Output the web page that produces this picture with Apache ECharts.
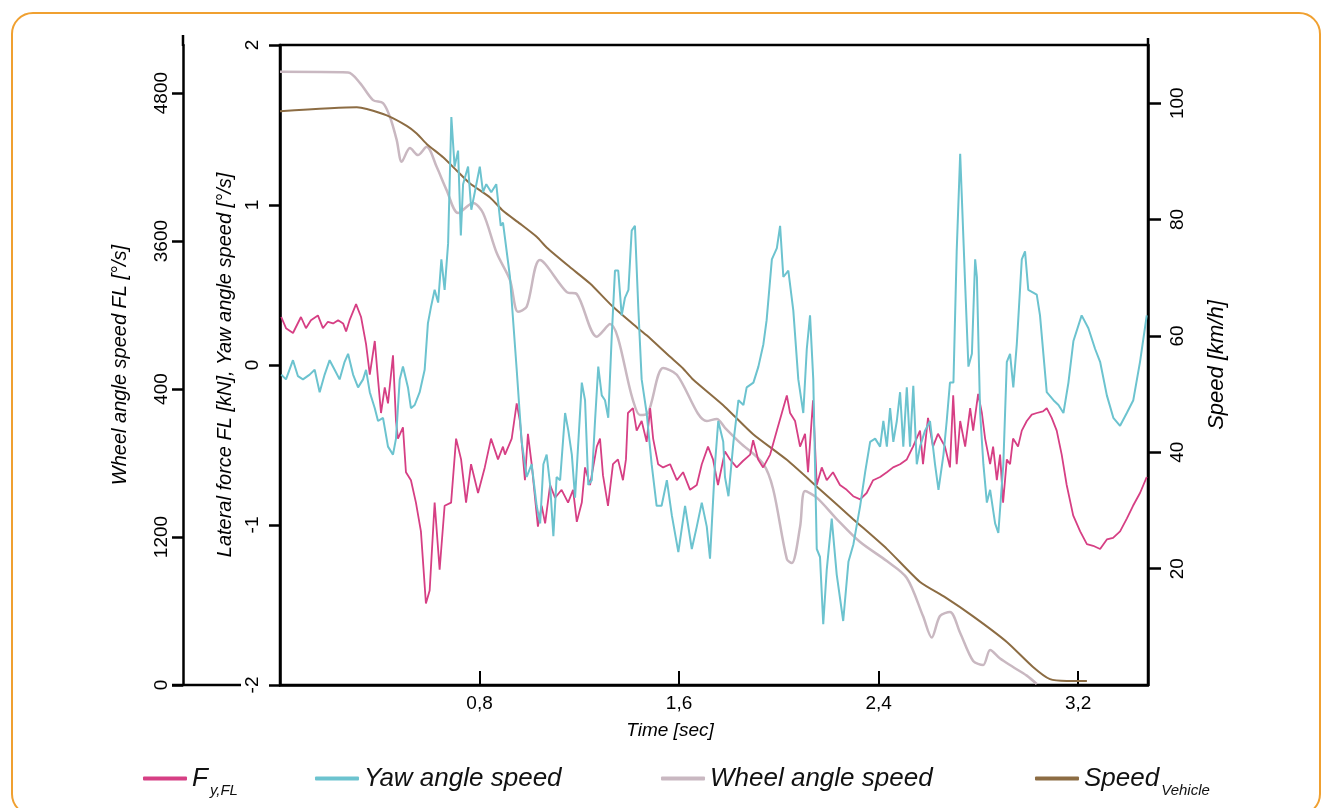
<!DOCTYPE html>
<html>
<head>
<meta charset="utf-8">
<script src="https://cdn.jsdelivr.net/npm/echarts@6/dist/echarts.min.js"></script>
<style>
	html, body { margin: 0; padding: 0; background: #fff; overflow: hidden; }
	#frame { position: absolute; left: 11px; top: 12px; width: 1306px; height: 800px; border: 2px solid #f0a030; border-radius: 22px; }
	#chart { position: absolute; left: 0; top: 0; width: 1325px; height: 808px; }
</style>
</head>
<body>
<div id="frame"></div>
<div id="chart"></div>
<script type="text/javascript">
	// [time s, value]
	var fyData = [
		[0.005,0.30],[0.024,0.23],[0.052,0.20],[0.084,0.30],[0.104,0.23],[0.124,0.28],[0.152,0.31],[0.172,0.23],
		[0.192,0.27],[0.213,0.26],[0.233,0.28],[0.253,0.26],[0.265,0.21],[0.279,0.28],[0.305,0.38],[0.325,0.30],
		[0.345,0.13],[0.360,-0.06],[0.380,0.15],[0.393,-0.09],[0.405,-0.30],[0.420,-0.14],[0.433,-0.24],[0.453,0.06],
		[0.465,-0.35],[0.473,-0.46],[0.493,-0.39],[0.505,-0.67],[0.525,-0.72],[0.545,-0.86],[0.565,-1.04],[0.585,-1.49],
		[0.600,-1.41],[0.620,-0.86],[0.640,-1.28],[0.660,-0.88],[0.686,-0.86],[0.706,-0.46],[0.726,-0.59],[0.746,-0.86],
		[0.766,-0.62],[0.794,-0.80],[0.821,-0.64],[0.846,-0.46],[0.874,-0.59],[0.894,-0.51],[0.902,-0.56],[0.929,-0.46],
		[0.949,-0.24],[0.962,-0.35],[0.982,-0.72],[0.994,-0.43],[1.009,-0.62],[1.034,-1.01],[1.049,-0.88],[1.063,-0.99],
		[1.083,-0.75],[1.103,-0.83],[1.129,-0.78],[1.155,-0.86],[1.175,-0.78],[1.190,-0.98],[1.210,-0.86],[1.223,-0.64],
		[1.243,-0.75],[1.270,-0.51],[1.283,-0.46],[1.295,-0.69],[1.315,-0.88],[1.335,-0.62],[1.355,-0.59],[1.375,-0.72],
		[1.387,-0.59],[1.395,-0.30],[1.415,-0.27],[1.430,-0.41],[1.450,-0.35],[1.470,-0.48],[1.484,-0.27],[1.496,-0.46],
		[1.516,-0.62],[1.536,-0.64],[1.564,-0.62],[1.591,-0.72],[1.616,-0.67],[1.644,-0.78],[1.671,-0.75],[1.691,-0.62],
		[1.716,-0.51],[1.736,-0.59],[1.756,-0.75],[1.784,-0.54],[1.804,-0.59],[1.831,-0.64],[1.856,-0.60],[1.885,-0.56],
		[1.897,-0.47],[1.917,-0.59],[1.937,-0.64],[1.965,-0.56],[1.992,-0.41],[2.012,-0.30],[2.032,-0.19],[2.045,-0.30],
		[2.065,-0.35],[2.085,-0.51],[2.105,-0.43],[2.117,-0.67],[2.137,-0.22],[2.152,-0.75],[2.172,-0.64],[2.192,-0.72],
		[2.217,-0.67],[2.245,-0.75],[2.272,-0.78],[2.298,-0.82],[2.326,-0.84],[2.352,-0.80],[2.378,-0.72],[2.406,-0.70],
		[2.433,-0.67],[2.458,-0.64],[2.486,-0.62],[2.513,-0.59],[2.538,-0.51],[2.566,-0.41],[2.578,-0.62],[2.598,-0.33],
		[2.618,-0.51],[2.638,-0.43],[2.666,-0.51],[2.686,-0.64],[2.699,-0.19],[2.713,-0.62],[2.727,-0.35],[2.747,-0.51],
		[2.767,-0.27],[2.779,-0.41],[2.799,-0.18],[2.814,-0.30],[2.827,-0.46],[2.847,-0.62],[2.859,-0.51],[2.874,-0.72],
		[2.887,-0.56],[2.899,-0.86],[2.914,-0.59],[2.927,-0.62],[2.939,-0.46],[2.959,-0.51],[2.974,-0.41],[2.994,-0.35],
		[3.014,-0.31],[3.034,-0.30],[3.059,-0.29],[3.074,-0.27],[3.094,-0.33],[3.114,-0.41],[3.134,-0.56],[3.154,-0.75],
		[3.180,-0.94],[3.208,-1.04],[3.235,-1.12],[3.260,-1.13],[3.288,-1.15],[3.315,-1.09],[3.340,-1.08],[3.368,-1.04],
		[3.395,-0.96],[3.420,-0.88],[3.448,-0.80],[3.475,-0.70]
	];
	var yawData = [
		[0.005,-0.06],[0.024,-0.09],[0.052,0.03],[0.072,-0.07],[0.092,-0.09],[0.119,-0.06],[0.139,-0.03],[0.159,-0.17],
		[0.179,-0.06],[0.199,0.03],[0.219,-0.03],[0.239,-0.09],[0.259,0.02],[0.273,0.07],[0.293,-0.06],[0.313,-0.14],
		[0.333,-0.09],[0.345,-0.03],[0.360,-0.17],[0.380,-0.27],[0.393,-0.35],[0.413,-0.33],[0.433,-0.51],[0.453,-0.56],
		[0.465,-0.46],[0.480,-0.09],[0.493,-0.01],[0.513,-0.14],[0.525,-0.27],[0.540,-0.25],[0.560,-0.17],[0.580,-0.03],
		[0.593,0.26],[0.605,0.36],[0.620,0.47],[0.634,0.39],[0.647,0.66],[0.660,0.47],[0.674,0.76],[0.687,1.55],
		[0.700,1.24],[0.714,1.34],[0.725,0.81],[0.734,1.13],[0.754,1.24],[0.767,0.97],[0.781,1.08],[0.801,1.24],
		[0.814,1.08],[0.827,1.13],[0.847,1.08],[0.867,1.13],[0.885,0.87],[0.894,0.89],[0.922,0.55],[0.949,-0.03],
		[0.969,-0.48],[0.989,-0.70],[1.009,-0.62],[1.029,-0.88],[1.043,-0.99],[1.056,-0.62],[1.069,-0.56],[1.083,-0.75],
		[1.096,-1.07],[1.109,-0.70],[1.123,-0.72],[1.143,-0.30],[1.156,-0.41],[1.170,-0.56],[1.183,-0.83],[1.210,-0.11],
		[1.223,-0.22],[1.236,-0.75],[1.250,-0.72],[1.263,-0.35],[1.276,-0.01],[1.290,-0.19],[1.303,-0.22],[1.316,-0.33],
		[1.330,0.18],[1.343,0.59],[1.356,0.59],[1.370,0.31],[1.383,0.42],[1.397,0.47],[1.410,0.84],[1.423,0.87],
		[1.437,0.34],[1.450,-0.09],[1.470,-0.30],[1.490,-0.62],[1.510,-0.88],[1.530,-0.88],[1.551,-0.72],[1.571,-0.94],
		[1.597,-1.17],[1.624,-0.88],[1.651,-1.15],[1.671,-1.01],[1.691,-0.86],[1.711,-1.01],[1.724,-1.21],[1.744,-0.62],
		[1.757,-0.35],[1.777,-0.48],[1.784,-0.70],[1.798,-0.82],[1.818,-0.48],[1.838,-0.22],[1.858,-0.25],[1.871,-0.14],
		[1.898,-0.11],[1.918,-0.01],[1.938,0.13],[1.951,0.28],[1.972,0.66],[1.992,0.73],[2.005,0.87],[2.018,0.55],
		[2.038,0.59],[2.058,0.34],[2.078,-0.09],[2.098,-0.30],[2.112,0.10],[2.125,0.31],[2.138,-0.09],[2.152,-1.15],
		[2.165,-1.20],[2.178,-1.62],[2.192,-1.28],[2.212,-0.96],[2.232,-1.31],[2.258,-1.60],[2.279,-1.23],[2.299,-1.12],
		[2.326,-0.88],[2.346,-0.67],[2.366,-0.48],[2.386,-0.46],[2.406,-0.51],[2.419,-0.35],[2.433,-0.51],[2.446,-0.27],
		[2.459,-0.48],[2.473,-0.35],[2.486,-0.17],[2.499,-0.51],[2.513,-0.14],[2.526,-0.51],[2.539,-0.13],[2.553,-0.62],
		[2.566,-0.51],[2.586,-0.41],[2.606,-0.35],[2.626,-0.62],[2.640,-0.78],[2.660,-0.56],[2.673,-0.35],[2.686,-0.11],
		[2.700,-0.11],[2.713,0.71],[2.727,1.32],[2.733,1.33],[2.747,0.50],[2.760,-0.01],[2.774,0.07],[2.787,0.66],
		[2.794,0.55],[2.807,-0.30],[2.820,-0.62],[2.834,-0.86],[2.847,-0.78],[2.867,-0.99],[2.880,-1.05],[2.900,-0.62],
		[2.914,0.02],[2.927,0.07],[2.940,-0.14],[2.954,0.13],[2.974,0.66],[2.987,0.71],[3.000,0.47],[3.034,0.44],
		[3.047,0.31],[3.074,-0.17],[3.101,-0.22],[3.121,-0.25],[3.141,-0.30],[3.161,-0.11],[3.181,0.15],[3.214,0.31],
		[3.241,0.23],[3.268,0.10],[3.288,0.02],[3.315,-0.19],[3.341,-0.33],[3.368,-0.38],[3.395,-0.30],[3.421,-0.22],
		[3.448,0.02],[3.475,0.31]
	];
	var wheelData = [
		[0.000,4973],[0.273,4968],[0.321,4881],[0.373,4743],[0.413,4719],[0.441,4606],[0.468,4419],[0.488,4243],
		[0.521,4354],[0.553,4297],[0.588,4365],[0.628,4202],[0.668,4013],[0.714,3827],[0.774,3908],[0.814,3827],
		[0.869,3503],[0.922,3284],[0.954,3027],[0.989,3067],[1.042,3446],[1.150,3186],[1.190,3170],[1.270,2825],
		[1.323,2927],[1.415,2311],[1.443,2189],[1.475,2205],[1.536,2570],[1.591,2516],[1.711,2141],[1.751,2157],
		[1.784,2086],[1.844,1966],[1.937,1794],[1.977,1589],[2.032,1022],[2.052,989],[2.085,1281],[2.105,1573],
		[2.152,1519],[2.232,1346],[2.326,1159],[2.433,1005],[2.513,868],[2.578,559],[2.613,385],[2.646,559],
		[2.686,592],[2.727,422],[2.779,195],[2.819,162],[2.847,284],[2.887,214],[2.939,146],[2.994,76],[3.034,8]
	];
	var speedData = [
		[0.000,98.6],[0.308,99.3],[0.348,99.0],[0.428,97.9],[0.508,96.1],[0.548,94.8],[0.588,93.0],[0.654,90.7],
		[0.709,88.4],[0.762,86.2],[0.842,83.8],[0.894,81.5],[0.962,79.3],[1.030,77.0],[1.069,75.2],[1.163,71.8],
		[1.243,69.0],[1.335,65.0],[1.430,61.5],[1.470,60.1],[1.564,56.4],[1.616,54.4],[1.656,52.5],[1.784,47.8],
		[1.897,43.1],[2.032,38.7],[2.165,33.6],[2.298,28.5],[2.433,23.4],[2.566,17.7],[2.666,15.1],[2.779,11.8],
		[2.914,7.4],[3.019,3.1],[3.087,1.0],[3.154,0.7],[3.235,0.7]
	];
	var timeTicks = [0.8, 1.6, 2.4, 3.2];
	var wheelTicks = [0, 1200, 2400, 3600, 4800];
	var wheelTickLabels = ['0', '1200', '400', '3600', '4800'];
	var speedTicks = [20, 40, 60, 80, 100];
	var seriesNames = ['Fy,FL', 'Yaw angle speed', 'Wheel angle speed', 'SpeedVehicle'];

	var FONT = 'Liberation Sans, Arial, sans-serif';
	var colors = ['#d63f84', '#6cc3cf', '#c9b8c1', '#8c6c43'];

	var chart = echarts.init(document.getElementById('chart'));

	var axisLine = { show: true, onZero: false, lineStyle: { color: '#000', width: 2.5 } };
	var tickLabel = { color: '#000', fontSize: 19, fontFamily: FONT };
	var nameStyle = { color: '#000', fontSize: 20, fontStyle: 'italic', fontFamily: FONT };

	var legendRich = {
		m: { fontSize: 26, fontStyle: 'italic', fontFamily: FONT, color: '#111', verticalAlign: 'middle', lineHeight: 30 },
		s: { fontSize: 15, fontStyle: 'italic', fontFamily: FONT, color: '#111', verticalAlign: 'middle', lineHeight: 15, padding: [24, 0, 0, 2] }
	};
	// every item gets the same two-part layout so the icons line up
	function legendText(name) {
		if (name === 'Fy,FL') return '{m|F}{s|y,FL}';
		if (name === 'SpeedVehicle') return '{m|Speed}{s|Vehicle}';
		return '{m|' + name + '}{s| }';
	}
	var legendLeft = [138, 310, 656, 1030];
	var legends = seriesNames.map(function (n, i) {
		return {
			data: [n], left: legendLeft[i], top: 754, icon: 'roundRect',
			itemWidth: 44, itemHeight: 4, selectedMode: false,
			formatter: legendText,
			textStyle: { rich: legendRich }
		};
	});

	var option = {
		animation: false,
		color: colors,
		legend: legends,
		grid: { left: 280, right: 177, top: 45, bottom: 123, show: true, borderColor: '#000', borderWidth: 2.5 },
		xAxis: {
			type: 'value', min: 0, max: 3.48,
			axisLine: axisLine,
			axisTick: { inside: true, length: 14, lineStyle: { color: '#000', width: 2 }, customValues: timeTicks },
			axisLabel: Object.assign({ margin: 9, customValues: timeTicks, formatter: function (v) { return v.toFixed(1).replace('.', ','); } }, tickLabel),
			splitLine: { show: false },
			name: 'Time [sec]', nameLocation: 'middle', nameGap: 36,
			nameTextStyle: Object.assign({ padding: [0, 88, 0, 0] }, nameStyle, { fontSize: 19 })
		},
		yAxis: [
			{
				type: 'value', position: 'left', min: -2, max: 2, interval: 1,
				axisLine: axisLine,
				axisTick: { length: 11, lineStyle: { color: '#000', width: 2.5 } },
				axisLabel: Object.assign({ rotate: 90, margin: 18 }, tickLabel),
				splitLine: { show: false },
				name: 'Lateral force FL [kN], Yaw angle speed [°/s]', nameLocation: 'middle', nameRotate: 90, nameGap: 43,
				nameTextStyle: nameStyle
			},
			{
				type: 'value', position: 'left', offset: 97, min: 0, max: 5190,
				axisLine: axisLine,
				axisTick: { length: 11, lineStyle: { color: '#000', width: 2.5 }, customValues: wheelTicks },
				axisLabel: Object.assign({ rotate: 90, margin: 12, customValues: wheelTicks,
					formatter: function (v) { return wheelTickLabels[wheelTicks.indexOf(v)]; } }, tickLabel),
				splitLine: { show: false },
				name: 'Wheel angle speed FL [°/s]', nameLocation: 'middle', nameRotate: 90, nameGap: 53,
				nameTextStyle: nameStyle
			},
			{
				type: 'value', position: 'right', min: 0, max: 110,
				axisLine: axisLine,
				axisTick: { length: 13, lineStyle: { color: '#000', width: 2.5 }, customValues: speedTicks },
				axisLabel: Object.assign({ rotate: 90, margin: 20, customValues: speedTicks }, tickLabel),
				splitLine: { show: false },
				name: 'Speed [km/h]', nameLocation: 'middle', nameRotate: 90, nameGap: 58,
				nameTextStyle: Object.assign({}, nameStyle, { fontSize: 22 })
			}
		],
		graphic: [
			{ type: 'line', shape: { x1: 172, y1: 685, x2: 241, y2: 685 }, style: { stroke: '#000', lineWidth: 2.5 } },
			{ type: 'line', shape: { x1: 183, y1: 35, x2: 183, y2: 46 }, style: { stroke: '#000', lineWidth: 2.5 } },
			{ type: 'line', shape: { x1: 1148, y1: 38, x2: 1148, y2: 46 }, style: { stroke: '#000', lineWidth: 2.5 } }
		],
		series: [
			{ name: seriesNames[2], type: 'line', yAxisIndex: 1, data: wheelData, showSymbol: false, smooth: 0.3,
				lineStyle: { width: 2.5, color: colors[2] }, itemStyle: { color: colors[2] } },
			{ name: seriesNames[3], type: 'line', yAxisIndex: 2, data: speedData, showSymbol: false, smooth: 0.2,
				lineStyle: { width: 2, color: colors[3] }, itemStyle: { color: colors[3] } },
			{ name: seriesNames[0], type: 'line', yAxisIndex: 0, data: fyData, showSymbol: false,
				lineStyle: { width: 1.8, color: colors[0] }, itemStyle: { color: colors[0] } },
			{ name: seriesNames[1], type: 'line', yAxisIndex: 0, data: yawData, showSymbol: false,
				lineStyle: { width: 2, color: colors[1] }, itemStyle: { color: colors[1] } }
		]
	};
	chart.setOption(option);
	window.onresize = function () {
		chart.resize();
	};
</script>
</body>
</html>
